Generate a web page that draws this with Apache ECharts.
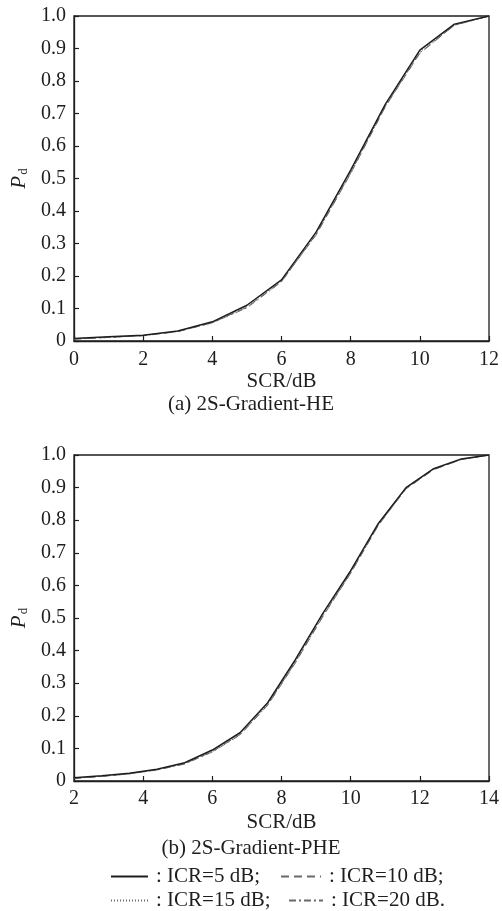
<!DOCTYPE html>
<html>
<head>
<meta charset="utf-8">
<title>Pd vs SCR</title>
<script src="https://cdn.jsdelivr.net/npm/echarts@6/dist/echarts.min.js"></script>
<style>
  html, body { margin: 0; padding: 0; background: #fff; }
  #chart { width: 502px; height: 911px; }
</style>
</head>
<body>
<div id="chart"></div>
<script>
// (a) 2S-Gradient-HE
const scrA = [0, 1, 2, 3, 4, 5, 6, 7, 8, 9, 10, 11, 12];
const pdA5  = [0.008, 0.013, 0.018, 0.031, 0.059, 0.110, 0.188, 0.335, 0.526, 0.728, 0.895, 0.975, 1.000];
const pdA10 = [0.006, 0.011, 0.016, 0.029, 0.056, 0.104, 0.183, 0.326, 0.515, 0.720, 0.885, 0.972, 1.000];
const pdA15 = [0.007, 0.012, 0.017, 0.030, 0.057, 0.106, 0.185, 0.330, 0.520, 0.724, 0.890, 0.973, 1.000];
const pdA20 = [0.006, 0.011, 0.017, 0.029, 0.056, 0.102, 0.182, 0.328, 0.517, 0.722, 0.887, 0.971, 1.000];

// (b) 2S-Gradient-PHE
const scrB = [2, 2.8, 3.6, 4.4, 5.2, 6.0, 6.8, 7.6, 8.4, 9.2, 10, 10.8, 11.6, 12.4, 13.2, 14];
const pdB5  = [0.010, 0.016, 0.024, 0.036, 0.056, 0.095, 0.148, 0.240, 0.372, 0.515, 0.645, 0.790, 0.900, 0.958, 0.988, 1.000];
const pdB10 = [0.008, 0.014, 0.022, 0.034, 0.053, 0.090, 0.142, 0.232, 0.362, 0.505, 0.637, 0.784, 0.896, 0.955, 0.986, 1.000];
const pdB15 = [0.009, 0.015, 0.023, 0.035, 0.054, 0.092, 0.145, 0.236, 0.367, 0.510, 0.641, 0.787, 0.898, 0.957, 0.987, 1.000];
const pdB20 = [0.008, 0.014, 0.022, 0.034, 0.052, 0.089, 0.141, 0.233, 0.364, 0.507, 0.638, 0.785, 0.897, 0.956, 0.986, 1.000];

const icrNames = ['ICR=5 dB', 'ICR=10 dB', 'ICR=15 dB', 'ICR=20 dB'];
const legendTexts = [': ICR=5 dB;', ': ICR=10 dB;', ': ICR=15 dB;', ': ICR=20 dB.'];

const FONT = '"Liberation Serif", "Times New Roman", serif';
const INK = '#1e1e1e';
const GRAY = '#6a6a6a';

const lineStyles = [
  { color: INK, width: 1.5, type: 'solid' },
  { color: GRAY, width: 1, type: [8, 5] },
  { color: GRAY, width: 1, type: [1, 2] },
  { color: GRAY, width: 1, type: [7, 3, 2, 3] }
];

function pairs(xs, ys) { return xs.map((x, i) => [x, ys[i]]); }

function xAxisFor(gridIndex, min, max, labelMargin, nameGap) {
  return {
    type: 'value', gridIndex, min, max, interval: 2,
    name: 'SCR/dB', nameLocation: 'middle', nameGap,
    nameTextStyle: { fontFamily: FONT, fontSize: 21, color: INK },
    axisLine: { show: true, lineStyle: { color: INK, width: 1.3 } },
    axisTick: { show: true, inside: true, length: 5, lineStyle: { color: INK, width: 1.2 } },
    axisLabel: { margin: labelMargin, fontFamily: FONT, fontSize: 20, color: INK },
    splitLine: { show: false }
  };
}

function yAxisFor(gridIndex) {
  return {
    type: 'value', gridIndex, min: 0, max: 1, interval: 0.1,
    name: '{p|P}{d|d}', nameLocation: 'middle', nameGap: 43, nameRotate: 90,
    nameTextStyle: {
      rich: {
        p: { fontFamily: FONT, fontSize: 21, fontStyle: 'italic', color: INK },
        d: { fontFamily: FONT, fontSize: 13, color: INK, padding: [9, 0, 0, 1] }
      }
    },
    axisLine: { show: true, lineStyle: { color: INK, width: 1.3 } },
    axisTick: { show: true, inside: true, length: 5, lineStyle: { color: INK, width: 1.2 } },
    axisLabel: {
      margin: 8, fontFamily: FONT, fontSize: 20, color: INK,
      formatter: v => (Math.abs(v) < 1e-9 ? '0' : v.toFixed(1))
    },
    splitLine: { show: false }
  };
}

const seriesA = [pdA5, pdA10, pdA15, pdA20];
const seriesB = [pdB5, pdB10, pdB15, pdB20];
const series = [];
// later series first so the solid curve sits on top
[3, 2, 1, 0].forEach(k => {
  series.push({
    name: icrNames[k], type: 'line', xAxisIndex: 0, yAxisIndex: 0,
    data: pairs(scrA, seriesA[k]), symbol: 'none', z: 10 - k,
    lineStyle: lineStyles[k], itemStyle: { color: lineStyles[k].color }
  });
  series.push({
    name: icrNames[k], type: 'line', xAxisIndex: 1, yAxisIndex: 1,
    data: pairs(scrB, seriesB[k]), symbol: 'none', z: 10 - k,
    lineStyle: lineStyles[k], itemStyle: { color: lineStyles[k].color }
  });
});

// legend keys show only the line sample, no marker
function legendFor(k, left, top, w) {
  return {
    data: [icrNames[k]], left, top, itemWidth: w, itemHeight: 14,
    selectedMode: false, padding: 0,
    itemStyle: { color: 'rgba(0,0,0,0)', borderColor: 'rgba(0,0,0,0)', borderWidth: 0 },
    formatter: () => legendTexts[k],
    textStyle: { fontFamily: FONT, fontSize: 21, color: INK, padding: [0, 0, 0, 3] }
  };
}

const option = {
  animation: false,
  backgroundColor: '#fff',
  grid: [
    { left: 74, top: 16, width: 416, height: 325, show: true, borderColor: INK, borderWidth: 1.3, containLabel: false },
    { left: 74, top: 455, width: 416, height: 326, show: true, borderColor: INK, borderWidth: 1.3, containLabel: false }
  ],
  xAxis: [xAxisFor(0, 0, 12, 9, 30), xAxisFor(1, 2, 14, 8, 31)],
  yAxis: [yAxisFor(0), yAxisFor(1)],
  title: [
    { text: '(a) 2S-Gradient-HE', left: 'center', top: 394, padding: 0,
      textStyle: { fontFamily: FONT, fontSize: 21, fontWeight: 'normal', color: INK } },
    { text: '(b) 2S-Gradient-PHE', left: 'center', top: 838, padding: 0,
      textStyle: { fontFamily: FONT, fontSize: 21, fontWeight: 'normal', color: INK } }
  ],
  legend: [
    legendFor(0, 110, 866, 37),
    legendFor(1, 280, 866, 40),
    legendFor(2, 110, 890, 37),
    legendFor(3, 288, 890, 34)
  ],
  series
};

const chart = echarts.init(document.getElementById('chart'), null, { renderer: 'canvas' });
chart.setOption(option);
</script>
</body>
</html>
